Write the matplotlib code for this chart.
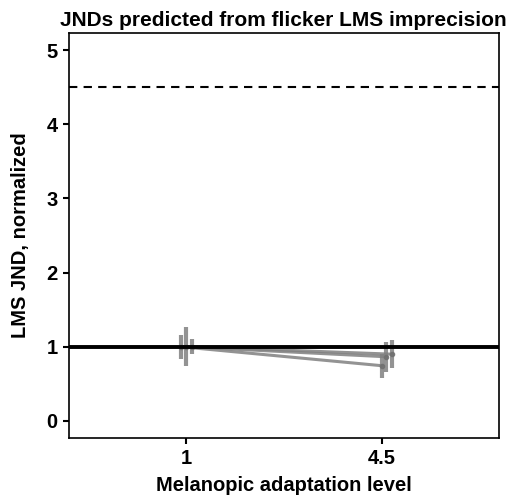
import numpy as np
import matplotlib.pyplot as plt

plt.rcParams['font.family'] = ['Liberation Sans', 'DejaVu Sans']
plt.rcParams['font.weight'] = 'bold'

# adaptation levels (categorical positions 1, 2)
levels = ['1', '4.5']
# normalized JND per observer series, and half-width of error bars
jnd_a = [1.0, 0.745]
err_a = [0.16, 0.16]
jnd_b = [1.0, 0.865]
err_b = [0.26, 0.20]
jnd_c = [1.0, 0.90]
err_c = [0.10, 0.19]
# small horizontal dodge so bars don't overlap
dodge_a = [-0.025, 0.0]
dodge_b = [0.0, 0.025]
dodge_c = [0.03, 0.055]

ceiling = 4.5

fig, ax = plt.subplots(figsize=(5.29, 5.0), dpi=100)
fig.subplots_adjust(left=0.13, right=0.943, top=0.934, bottom=0.124)

pos = np.arange(1, len(levels) + 1)
ax.axhline(1, color='black', lw=2.8, zorder=3)
ax.axhline(ceiling, color='black', lw=1.5, ls=(0, (4, 3)), zorder=3)

for y, e, d in [(jnd_a, err_a, dodge_a), (jnd_b, err_b, dodge_b), (jnd_c, err_c, dodge_c)]:
    x = pos + np.array(d)
    ax.plot(x, y, color='#808080', lw=2.2, alpha=0.85, zorder=2)
    ax.errorbar(x, y, yerr=e, fmt='o', ms=3, color='#707070', ecolor='#808080',
                elinewidth=3, capsize=0, alpha=0.85, zorder=2)

ax.set_xlim(0.4, 2.6)
ax.set_ylim(-0.23, 5.23)
ax.set_xticks(pos)
ax.set_xticklabels(levels)
ax.set_yticks([0, 1, 2, 3, 4, 5])
ax.tick_params(labelsize=14.5, width=1.5, length=4, color='black', pad=4)
for s in ax.spines.values():
    s.set_linewidth(1.2)

ax.set_xlabel('Melanopic adaptation level', fontsize=14.5, fontweight='bold', labelpad=6)
ax.set_ylabel('LMS JND, normalized', fontsize=14.5, fontweight='bold', labelpad=12)
ax.set_title('JNDs predicted from flicker LMS imprecision', fontsize=15, fontweight='bold', pad=5)

plt.savefig('out.png', dpi=100)
